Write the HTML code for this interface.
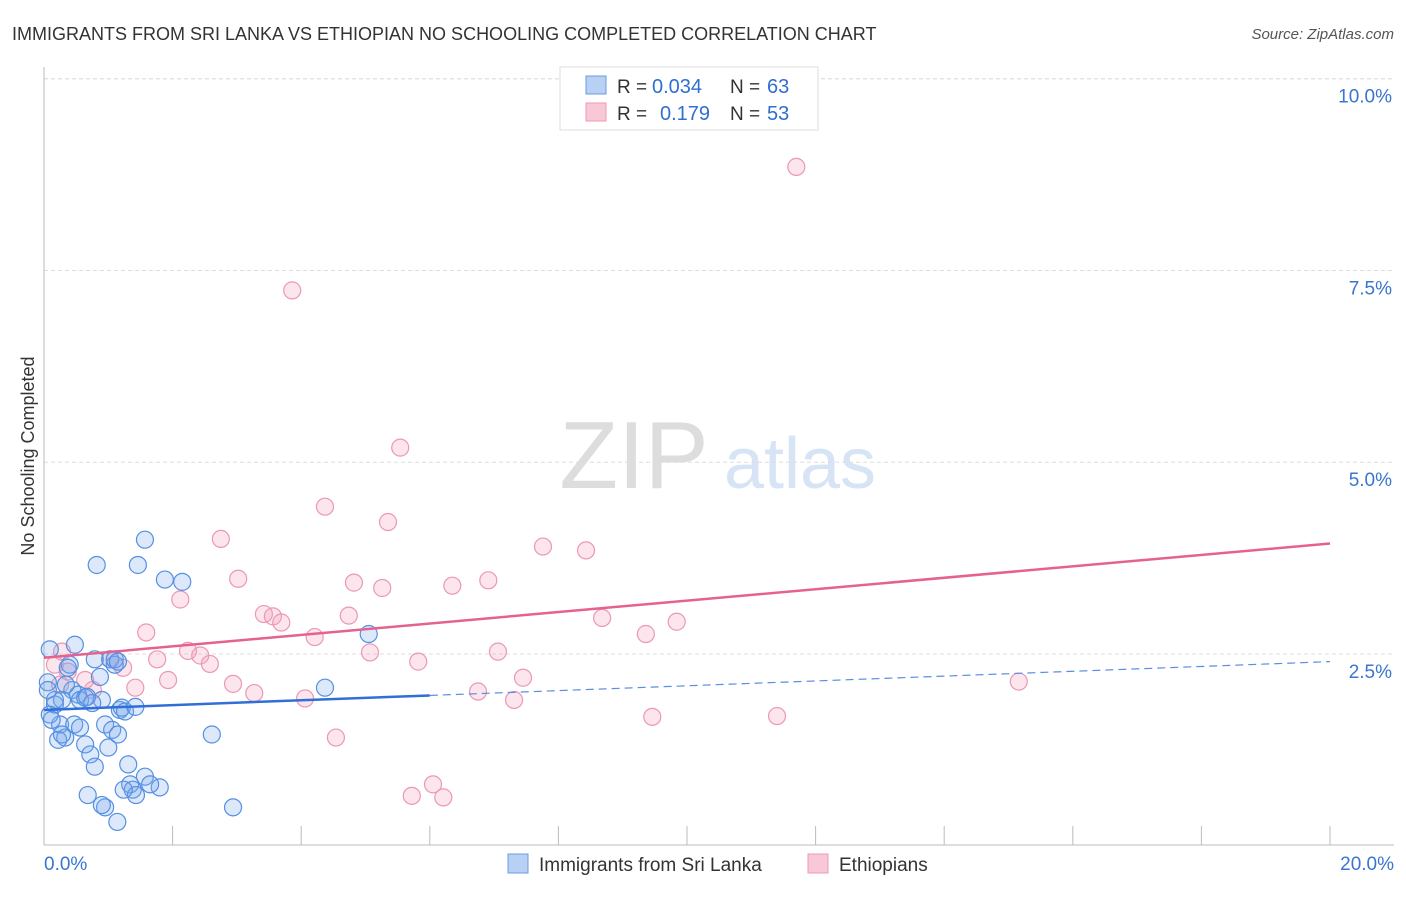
<!DOCTYPE html>
<html><head><meta charset="utf-8"><style>
body{margin:0;background:#fff;font-family:"Liberation Sans",sans-serif}
svg text{font-family:"Liberation Sans",sans-serif}
</style></head><body>
<svg id="c" width="1406" height="892">
<text x="12" y="40" font-size="18" fill="#333">IMMIGRANTS FROM SRI LANKA VS ETHIOPIAN NO SCHOOLING COMPLETED CORRELATION CHART</text>
<text x="1394" y="39" font-size="15" fill="#555" font-style="italic" text-anchor="end">Source: ZipAtlas.com</text>
<text x="634" y="488" font-size="96" fill="#ddd" font-family="Liberation Serif" text-anchor="middle">ZIP</text>
<text x="800" y="488" font-size="72" fill="#d6e4f5" text-anchor="middle">atlas</text>
<text x="34" y="456" font-size="18" fill="#333" text-anchor="middle" transform="rotate(-90 34 456)">No Schooling Completed</text>
<g id="grid"></g><g id="marks"></g>
<g>
<rect x="560" y="67" width="258" height="63" fill="#fff" stroke="#ddd"/>
<rect x="586" y="76" width="20" height="18" fill="#b8d0f4" stroke="#6a9be0"/>
<rect x="586" y="103" width="20" height="18" fill="#f8c8d6" stroke="#ec9ab4"/>
<text x="617" y="93" font-size="19" fill="#333">R =</text>
<text x="652" y="93" font-size="20" fill="#2f6fd0">0.034</text>
<text x="730" y="93" font-size="19" fill="#333">N =</text>
<text x="767" y="93" font-size="20" fill="#2f6fd0">63</text>
<text x="617" y="120" font-size="19" fill="#333">R =</text>
<text x="660" y="120" font-size="20" fill="#2f6fd0">0.179</text>
<text x="730" y="120" font-size="19" fill="#333">N =</text>
<text x="767" y="120" font-size="20" fill="#2f6fd0">53</text>
</g>
<g>
<rect x="508" y="854" width="20" height="19" fill="#b8d0f4" stroke="#6a9be0"/>
<text x="539" y="871" font-size="19" fill="#333">Immigrants from Sri Lanka</text>
<rect x="808" y="854" width="20" height="19" fill="#f8c8d6" stroke="#ec9ab4"/>
<text x="839" y="871" font-size="19" fill="#333">Ethiopians</text>
</g>
</svg>
<script>
const blueX=[0.09,0.06,0.17,0.25,0.33,0.40,0.44,0.48,0.53,0.56,0.64,0.72,0.79,0.79,0.87,0.90,0.95,1.00,1.03,1.06,1.10,1.15,1.18,1.21,1.26,1.31,1.34,1.38,1.42,1.43,1.57,1.80,0.68,0.95,1.14,0.90,0.82,1.46,1.57,1.88,2.15,2.61,2.94,4.37,5.05,0.09,0.22,0.28,0.34,0.37,0.64,0.67,0.75,0.47,0.56,0.17,0.06,0.12,1.24,1.65,1.10,1.15,0.28];
const blueY=[2.56,2.13,1.84,1.58,1.41,2.36,2.03,2.62,1.97,1.90,1.32,1.19,2.43,1.03,2.20,1.90,1.58,1.28,2.43,1.51,2.36,1.45,1.77,1.80,1.75,1.06,0.80,0.73,1.81,0.66,0.90,0.76,0.66,0.50,0.31,0.53,3.66,3.66,3.99,3.47,3.44,1.45,0.50,2.06,2.76,1.71,1.38,1.90,2.10,2.32,1.93,1.94,1.86,1.58,1.54,1.90,2.03,1.64,0.73,0.80,2.43,2.40,1.45];
const pinkX=[3.86,11.70,5.54,4.37,5.35,2.75,7.76,8.43,3.02,4.82,5.26,6.35,6.91,2.12,3.42,3.56,3.69,4.74,8.68,9.84,9.36,1.59,4.21,2.24,2.43,1.76,2.58,5.07,5.82,7.06,1.23,1.93,1.42,2.94,3.27,4.06,6.75,7.45,7.31,9.46,11.40,15.16,4.54,5.72,6.05,6.21,0.76,0.37,0.25,0.17,0.64,1.03,0.28];
const pinkY=[7.24,8.85,5.19,4.42,4.22,4.00,3.90,3.85,3.48,3.43,3.36,3.39,3.46,3.21,3.02,2.99,2.91,3.00,2.97,2.92,2.76,2.78,2.72,2.54,2.48,2.43,2.37,2.52,2.40,2.53,2.32,2.16,2.06,2.11,1.99,1.92,2.01,2.19,1.90,1.68,1.69,2.14,1.41,0.65,0.80,0.63,2.03,2.27,2.10,2.36,2.16,2.43,2.53];
const pinkTrend=[2.45,3.94];
const blueTrend=[1.77,2.40];
const blueSolidEnd=6;
const yTicks=[2.5,5.0,7.5,10.0];
const xTickVals=[2,4,6,8,10,12,14,16,18,20];
const X=v=>44+v*64.3, Y=v=>845.7-v*76.7;
const NS='http://www.w3.org/2000/svg';
function mk(t,a,p){const e=document.createElementNS(NS,t);for(const k in a)e.setAttribute(k,a[k]);p.appendChild(e);return e;}
const g=document.getElementById('grid'),m=document.getElementById('marks');
mk('line',{x1:44,y1:Y(10),x2:1394,y2:Y(10),stroke:'#ddd','stroke-dasharray':'4,3'},g);
yTicks.forEach(v=>{
const l=mk('line',{x1:44,y1:Y(v),x2:1394,y2:Y(v),stroke:'#ddd','stroke-dasharray':'4,3'},g);


const t=mk('text',{x:1392,y:Y(v)+24,'font-size':19,fill:'#3a75d0','text-anchor':'end'},g);t.textContent=v.toFixed(1)+'%';


});
mk('line',{x1:44,y1:67,x2:44,y2:845,stroke:'#bbb'},g);
mk('line',{x1:44,y1:845,x2:1394,y2:845,stroke:'#bbb'},g);
xTickVals.forEach(v=>{const l=mk('line',{x1:X(v),y1:826,x2:X(v),y2:845,stroke:'#bbb'},g);

});
let t0=mk('text',{x:44,y:870,'font-size':19,fill:'#3a75d0'},g);t0.textContent='0.0%';


let t1=mk('text',{x:1394,y:870,'font-size':19,fill:'#3a75d0','text-anchor':'end'},g);t1.textContent='20.0%';


pinkX.forEach((x,i)=>{const c=mk('circle',{cx:X(x),cy:Y(pinkY[i]),r:8.5,fill:'rgba(244,160,188,0.28)',stroke:'#eb98b3','stroke-width':1.2},m);

});
blueX.forEach((x,i)=>{const c=mk('circle',{cx:X(x),cy:Y(blueY[i]),r:8.5,fill:'rgba(120,168,235,0.25)',stroke:'#5590e2','stroke-width':1.2},m);

});
const bAt=v=>blueTrend[0]+(blueTrend[1]-blueTrend[0])*v/20;
let p=mk('line',{x1:X(0),y1:Y(pinkTrend[0]),x2:X(20),y2:Y(pinkTrend[1]),stroke:'#e5628f','stroke-width':2.5},m);


let b=mk('line',{x1:X(0),y1:Y(bAt(0)),x2:X(blueSolidEnd),y2:Y(bAt(blueSolidEnd)),stroke:'#2f6fd6','stroke-width':2.5},m);


let bd=mk('line',{x1:X(blueSolidEnd),y1:Y(bAt(blueSolidEnd)),x2:X(20),y2:Y(bAt(20)),stroke:'#5a8ee0','stroke-width':1.2,'stroke-dasharray':'8,5'},m);


</script>
</body></html>
